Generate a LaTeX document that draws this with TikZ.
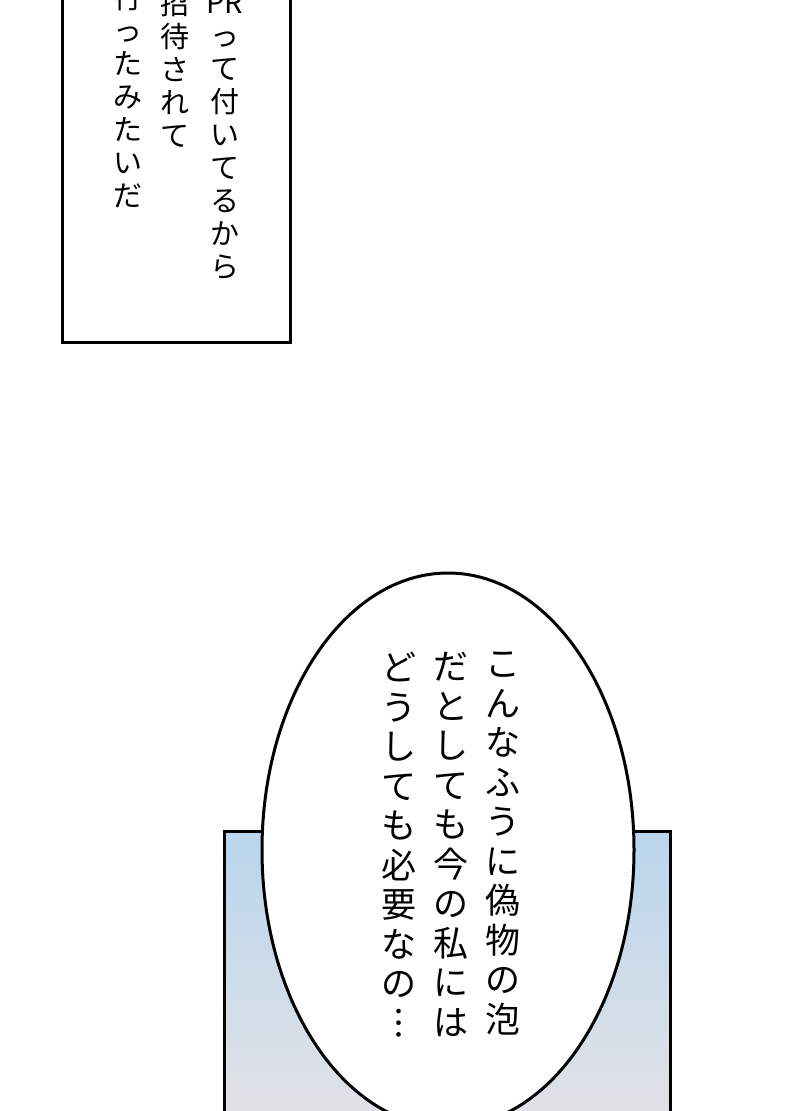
\documentclass[tikz,border=0pt]{standalone}
\usepackage{fontspec}
\newfontfamily\jpfont{Noto Sans CJK JP}
\definecolor{ciel}{HTML}{B9D5EC}
\definecolor{brume}{HTML}{E2E2E6}
\begin{document}
\begin{tikzpicture}[x=1pt,y=-1pt]
	\tikzstyle{cadre}=[draw=black,line width=3pt]
	\tikzstyle{colonne}=[anchor=north,align=center,inner sep=0pt,font=\jpfont\fontsize{29}{33}\selectfont]
	\tikzstyle{grande}=[anchor=north,align=center,inner sep=0pt,font=\jpfont\fontsize{35}{39.5}\selectfont]
	\useasboundingbox (0,0) rectangle (800,1111);
	\clip (0,0) rectangle (800,1111);
	\fill[white] (0,0) rectangle (800,1111);
	% case du haut
	\draw[cadre,fill=white] (62,-10) rectangle (290,342);
	\node[colonne] (ColA) at (225,-8) {PR\\っ\\て\\付\\い\\て\\る\\か\\ら};
	\node[colonne] (ColB) at (175,-10) {招\\待\\さ\\れ\\て};
	\node[colonne] (ColC) at (128,-16) {行\\っ\\た\\み\\た\\い\\だ};
	% fond bleu
	\shade[top color=ciel,bottom color=brume] (224,831) rectangle (670,1120);
	\draw[cadre] (224,1120) -- (224,831) -- (670,831) -- (670,1120);
	% bulle
	\draw[line width=3pt,fill=white] (448,850) ellipse [x radius=186,y radius=277];
	\node[grande] (BulA) at (503,652) {こ\\ん\\な\\ふ\\う\\に\\偽\\物\\の\\泡};
	\node[grande] (BulB) at (451,652) {だ\\と\\し\\て\\も\\今\\の\\私\\に\\は};
	\node[grande] (BulC) at (399,652) {ど\\う\\し\\て\\も\\必\\要\\な\\の\\︙};
\end{tikzpicture}
\end{document}
